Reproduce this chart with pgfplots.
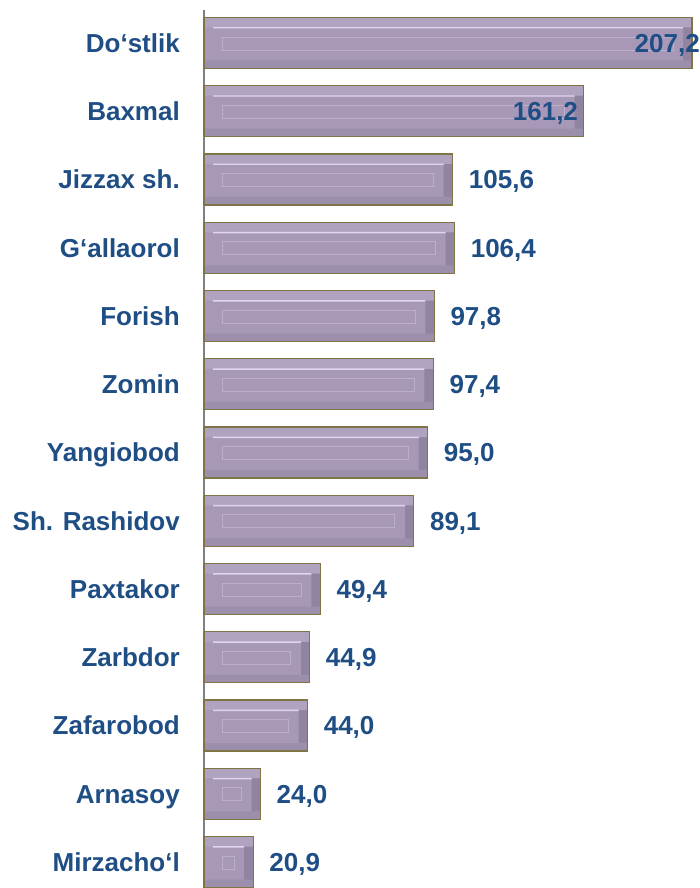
\documentclass[border=0pt]{standalone}
\usepackage{pgfplots}
\pgfplotsset{compat=1.18}
\usepackage{pgfplotstable}
\usepackage{fontspec}
\setmainfont{Liberation Sans}
\definecolor{lblue}{HTML}{1F4E85}
\definecolor{barface}{HTML}{A698B6}
\definecolor{bartop}{HTML}{B0A3C0}
\definecolor{barbot}{HTML}{9C8FAB}
\definecolor{barright}{HTML}{9184A0}
\definecolor{barhl}{HTML}{E0D4F0}
\definecolor{barinner}{HTML}{BBAFCB}
\definecolor{barborder}{HTML}{7E7444}
\definecolor{axgray}{HTML}{808080}

\pgfplotstableread{
idx val lab
0 207.2 207,2
1 161.2 161,2
2 105.6 105,6
3 106.4 106,4
4 97.8 97,8
5 97.4 97,4
6 95.0 95,0
7 89.1 89,1
8 49.4 49,4
9 44.9 44,9
10 44.0 44,0
11 24.0 24,0
12 20.9 20,9
}\data
\pgfplotstableread{
idx val lab
2 105.6 105,6
3 106.4 106,4
4 97.8 97,8
5 97.4 97,4
6 95.0 95,0
7 89.1 89,1
8 49.4 49,4
9 44.9 44,9
10 44.0 44,0
11 24.0 24,0
12 20.9 20,9
}\dataout
\pgfplotstableread{
idx val lab
0 207.2 207,2
}\dataA
\pgfplotstableread{
idx val lab
1 161.2 161,2
}\dataB

\newcommand{\lblfont}{\fontsize{26}{30}\selectfont\bfseries}

\begin{document}
\begin{tikzpicture}
\useasboundingbox (0,0) rectangle (700pt,888pt);
\begin{axis}[
  at={(204pt,0pt)}, anchor=south west,
  scale only axis, width=496pt, height=878pt,
  xmin=0, xmax=210.6,
  ymin=-0.4835, ymax=12.381, y dir=reverse,
  axis x line=none, axis y line*=left,
  y axis line style={draw=axgray, line width=1.5pt, -},
  ytick={0,...,12},
  yticklabels={Do‘stlik,Baxmal,Jizzax sh.,G‘allaorol,Forish,Zomin,Yangiobod,Sh. Rashidov,Paxtakor,Zarbdor,Zafarobod,Arnasoy,Mirzacho‘l},
  major tick length=0pt,
  yticklabel style={font=\lblfont, text=lblue, anchor=base east, inner sep=0pt, xshift=-24pt, yshift=-9.3pt},
  clip=false,
]
% 1. full bar in right-facet colour
\addplot[xbar, bar shift=0pt, bar width=51pt, fill=barright, draw=none]
  table[x=val, y=idx] {\data};
% 2. face (leaves right facet visible)
\addplot[xbar, bar shift=0pt, bar width=51pt, fill=barface, draw=none]
  table[x expr=\thisrow{val}-3.82, y=idx] {\data};
% 3. top facet
\addplot[xbar, bar shift=20.5pt, bar width=10pt, fill=bartop, draw=none]
  table[x=val, y=idx] {\data};
% 4. bottom facet
\addplot[xbar, bar shift=-21.5pt, bar width=8pt, fill=barbot, draw=none]
  table[x=val, y=idx] {\data};
% 5. highlight line
\addplot[xbar, bar shift=15.2pt, bar width=1.4pt, fill=barhl, draw=none, xshift=9pt]
  table[x expr=\thisrow{val}-7.64, y=idx] {\data};
% 6. inner rectangle
\addplot[xbar, bar shift=-0.5pt, bar width=13pt, fill=none, draw=barinner, line width=0.9pt, xshift=18pt]
  table[x expr=\thisrow{val}-15.71, y=idx] {\data};
% 7. border
\addplot[xbar, bar shift=0pt, bar width=51pt, fill=none, draw=barborder, line width=1.3pt]
  table[x=val, y=idx] {\data};
% value labels
\addplot[draw=none, mark=none, nodes near coords, point meta=explicit symbolic,
  nodes near coords style={anchor=base west, xshift=16pt, yshift=-9.3pt, inner sep=0pt, font=\lblfont, text=lblue}]
  table[x=val, y=idx, meta=lab] {\dataout};
\addplot[draw=none, mark=none, nodes near coords, point meta=explicit symbolic,
  nodes near coords style={anchor=base east, xshift=8pt, yshift=-9.3pt, inner sep=0pt, font=\lblfont, text=lblue}]
  table[x=val, y=idx, meta=lab] {\dataA};
\addplot[draw=none, mark=none, nodes near coords, point meta=explicit symbolic,
  nodes near coords style={anchor=base east, xshift=-5.5pt, yshift=-9.3pt, inner sep=0pt, font=\lblfont, text=lblue}]
  table[x=val, y=idx, meta=lab] {\dataB};
\end{axis}
\end{tikzpicture}
\end{document}
